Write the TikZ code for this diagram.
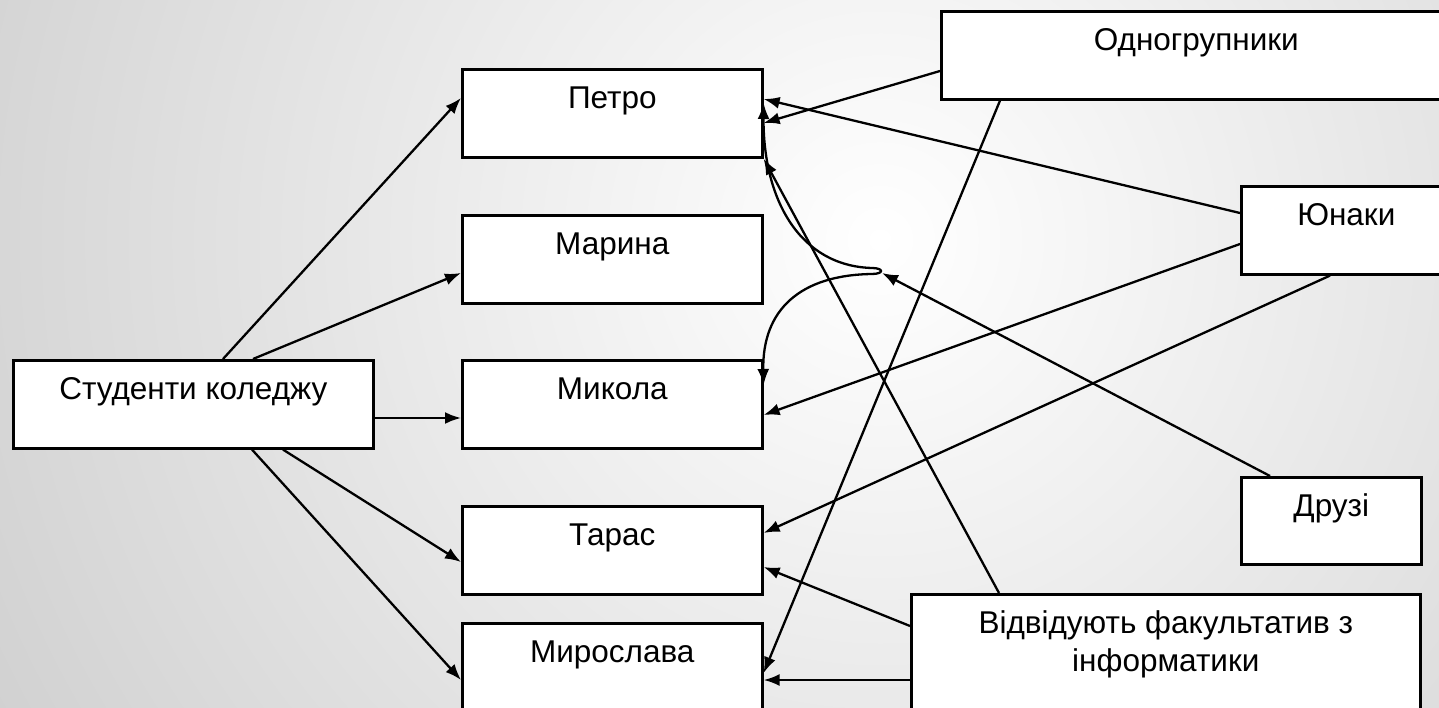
\documentclass[tikz,border=0pt]{standalone}
\usepackage{fontspec}
\setmainfont{Liberation Sans}
\usetikzlibrary{arrows.meta}
\tikzset{
  box/.style={draw,line width=2.6pt,fill=white,inner sep=0pt,anchor=north west,
    font=\fontsize{31.5}{38}\selectfont,text height=39pt,text depth=49pt},
  link/.style={line width=2.3pt,-{Latex[length=16pt,width=12pt]}}
}
\begin{document}
\begin{tikzpicture}[x=1pt,y=-1pt]
  \useasboundingbox (0,0) rectangle (1439,708);
  \begin{scope}
    \clip (0,0) rectangle (1439,708);
    \shade[inner color=white,outer color=black!36] (880,240) circle (2000);
  \end{scope}
  % students
  \node[box,minimum width=360pt] (stud) at (12,359) {Студенти коледжу};
  \node[box,minimum width=300pt] (petro) at (461,68) {Петро};
  \node[box,minimum width=300pt] (maryna) at (461,214) {Марина};
  \node[box,minimum width=300pt] (mykola) at (461,359) {Микола};
  \node[box,minimum width=300pt] (taras) at (461,505) {Тарас};
  \node[box,minimum width=300pt] (myroslava) at (461,622) {Мирослава};
  % groups
  \node[box,minimum width=510pt] (odno) at (940,10) {Одногрупники};
  \node[box,minimum width=210pt] (yunaky) at (1240,185) {Юнаки};
  \node[box,minimum width=180pt,text depth=48pt] (druzi) at (1240,476) {Друзі};
  \node[box,minimum width=509pt,align=center,text height=77pt] (vidv) at (910,593)
    {Відвідують факультатив з\\інформатики};
  \coordinate (hook) at (882,273);
  \draw[link] (stud.north -| 223,0) -- (petro.west |- 0,98);
  \draw[link] (stud.north -| 253,0) -- (maryna.west |- 0,273);
  \draw[link] (stud.east |- 0,418) -- (mykola.west |- 0,418);
  \draw[link] (stud.south -| 283,0) -- (taras.west |- 0,562);
  \draw[link] (stud.south -| 252,0) -- (myroslava.west |- 0,680);
  \draw[link] (odno.west |- 0,71) -- (petro.east |- 0,123);
  \draw[link] (yunaky.west |- 0,213) -- (petro.east |- 0,99);
  \draw[link] (yunaky.west |- 0,244) -- (mykola.east |- 0,415);
  \draw[link] (yunaky.south -| 1330,0) -- (taras.east |- 0,533);
  \draw[link] (odno.south -| 1000,0) -- (myroslava.east |- 0,673);
  \draw[link] (vidv.north -| 999,0) -- (petro.south east);
  \draw[link] (vidv.west |- 0,626) -- (taras.east |- 0,567);
  \draw[link] (vidv.west |- 0,680) -- (myroslava.east |- 0,680);
  \draw[link] (druzi.north -| 1270,0) -- (hook);
  \draw[link,{Latex[length=16pt,width=12pt]}-{Latex[length=16pt,width=12pt]}]
    (petro.east |- 0,103) .. controls (763,200) and (800,266) .. (872,268)
    .. controls (884,268) and (884,274) .. (872,274)
    .. controls (800,275) and (762,310) .. (mykola.east |- 0,385);
\end{tikzpicture}
\end{document}
